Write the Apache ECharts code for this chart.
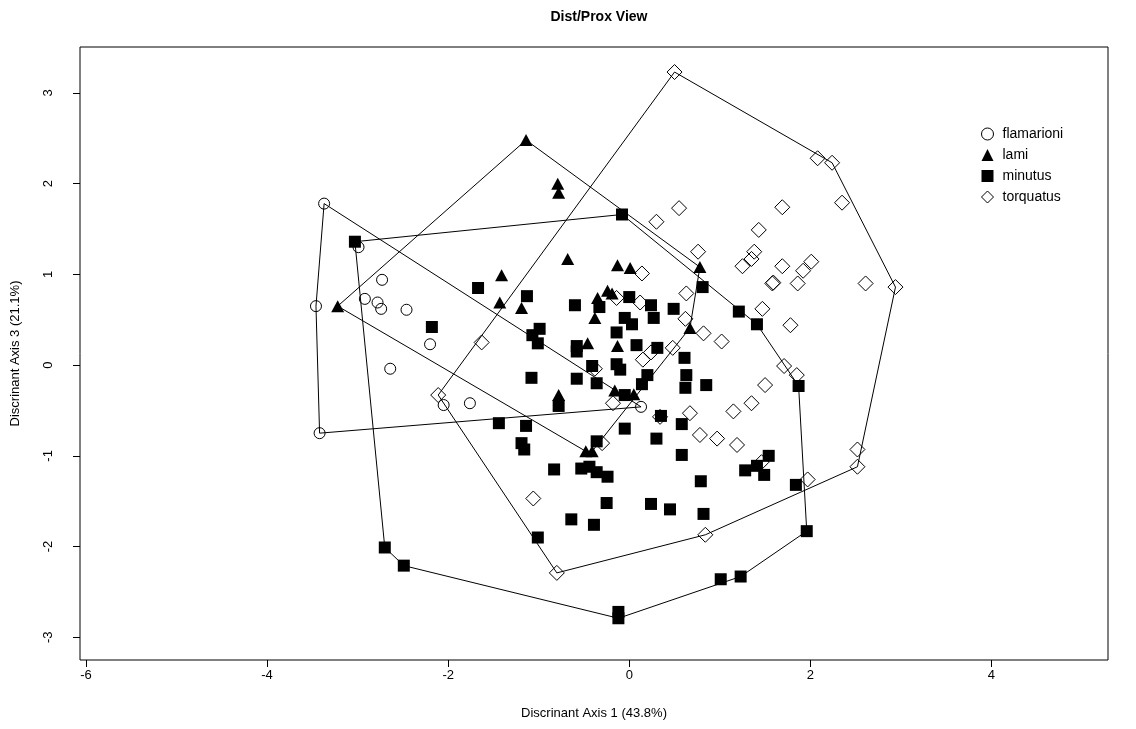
<!DOCTYPE html>
<html><head><meta charset="utf-8">
<script src="https://cdn.jsdelivr.net/npm/echarts@6/dist/echarts.min.js"></script>
<style>html,body{margin:0;padding:0;background:#fff}#c{width:1136px;height:729px}</style>
</head><body><div id="c"></div>
<script>
const flamarioni = [[-3.37,1.78],[-2.99,1.30],[-2.73,0.94],[-2.92,0.73],[-2.78,0.69],[-2.74,0.62],[-2.46,0.61],[-3.46,0.65],[-2.20,0.23],[-2.64,-0.04],[-2.05,-0.44],[-1.76,-0.42],[-3.42,-0.75],[0.13,-0.46]];
const lami = [[-3.22,0.65],[-1.14,2.48],[-0.79,2.00],[-0.78,1.90],[-0.68,1.17],[-1.41,0.99],[-1.43,0.69],[-1.19,0.63],[-0.35,0.74],[-0.38,0.52],[-0.24,0.82],[-0.46,0.24],[-0.78,-0.33],[-0.13,1.10],[0.01,1.07],[0.78,1.08],[-0.19,0.79],[0.67,0.41],[-0.13,0.21],[-0.16,-0.28],[0.05,-0.32],[-0.48,-0.95],[-0.41,-0.95]];
const minutus = [[-3.03,1.36],[-0.08,1.66],[-2.18,0.42],[-1.67,0.85],[-1.13,0.76],[-0.60,0.66],[-0.33,0.64],[-0.99,0.40],[-1.07,0.33],[-1.01,0.24],[-0.58,0.21],[-0.58,0.15],[-0.41,-0.01],[-1.08,-0.14],[-0.58,-0.15],[-0.36,-0.20],[-0.78,-0.45],[-1.44,-0.64],[-1.14,-0.67],[0.81,0.86],[0.00,0.75],[0.24,0.66],[0.49,0.62],[0.27,0.52],[-0.05,0.52],[0.03,0.45],[1.21,0.59],[1.41,0.45],[-0.14,0.36],[0.08,0.22],[0.31,0.19],[0.61,0.08],[-0.14,0.01],[-0.10,-0.05],[0.20,-0.11],[0.63,-0.11],[0.62,-0.25],[0.85,-0.22],[0.14,-0.21],[-0.05,-0.33],[0.35,-0.56],[0.58,-0.65],[-0.05,-0.70],[1.87,-0.23],[-2.70,-2.01],[-2.49,-2.21],[-1.19,-0.86],[-1.16,-0.93],[-0.36,-0.84],[-0.83,-1.15],[-0.53,-1.14],[-0.44,-1.12],[-0.36,-1.18],[-0.24,-1.23],[-0.25,-1.52],[-0.64,-1.70],[-0.39,-1.76],[-1.01,-1.90],[0.30,-0.81],[0.58,-0.99],[1.28,-1.16],[1.41,-1.11],[1.49,-1.21],[1.54,-1.00],[0.79,-1.28],[0.24,-1.53],[0.45,-1.59],[0.82,-1.64],[1.01,-2.36],[1.23,-2.33],[-0.12,-2.72],[-0.12,-2.79],[1.84,-1.32],[1.96,-1.83]];
const torquatus = [[0.50,3.23],[0.30,1.58],[0.55,1.73],[1.43,1.49],[0.76,1.25],[1.38,1.25],[1.35,1.17],[1.25,1.09],[2.08,2.28],[2.24,2.23],[2.35,1.79],[1.69,1.74],[-2.11,-0.33],[-0.14,0.74],[-1.63,0.25],[-0.38,-0.04],[0.14,1.01],[1.58,0.90],[1.59,0.91],[0.12,0.69],[0.63,0.79],[0.62,0.51],[1.47,0.62],[0.82,0.35],[1.02,0.26],[0.24,0.14],[0.15,0.06],[0.48,0.19],[-0.18,-0.42],[0.34,-0.57],[0.67,-0.53],[1.15,-0.51],[1.35,-0.42],[1.50,-0.22],[1.69,1.09],[2.01,1.14],[1.92,1.04],[1.86,0.90],[2.61,0.90],[2.94,0.86],[1.78,0.44],[1.71,-0.01],[1.85,-0.11],[-0.30,-0.86],[-1.06,-1.47],[-0.80,-2.29],[0.78,-0.77],[0.97,-0.81],[1.19,-0.88],[1.46,-1.07],[0.84,-1.87],[2.52,-0.93],[2.52,-1.12],[1.97,-1.26]];
const groupNames = ['flamarioni','lami','minutus','torquatus'];
const xTicks = [-6,-4,-2,0,2,4];
const yTicks = [-3,-2,-1,0,1,2,3];

function hull(p){
  const pts = p.slice().sort((a,b)=>a[0]-b[0]||a[1]-b[1]);
  const cross=(o,a,b)=>(a[0]-o[0])*(b[1]-o[1])-(a[1]-o[1])*(b[0]-o[0]);
  const lower=[]; for(const q of pts){while(lower.length>=2&&cross(lower[lower.length-2],lower[lower.length-1],q)<=0)lower.pop();lower.push(q);}
  const upper=[]; for(let i=pts.length-1;i>=0;i--){const q=pts[i];while(upper.length>=2&&cross(upper[upper.length-2],upper[upper.length-1],q)<=0)upper.pop();upper.push(q);}
  upper.pop(); lower.pop();
  const h=lower.concat(upper); h.push(h[0]); return h;
}
const FONT = '"Liberation Sans", Arial, sans-serif';
const groups = [
  {name:'flamarioni', data:flamarioni, symbol:'circle', size:11, fill:'rgba(0,0,0,0)'},
  {name:'lami', data:lami, symbol:'triangle', size:[13,12], fill:'#000'},
  {name:'minutus', data:minutus, symbol:'rect', size:12, fill:'#000'},
  {name:'torquatus', data:torquatus, symbol:'diamond', size:15, fill:'rgba(0,0,0,0)'}
];
const series = [];
groups.forEach(g=>{
  series.push({type:'line', data:hull(g.data), showSymbol:false, symbol:'none', silent:true,
    lineStyle:{color:'#000', width:1}, z:1, legendHoverLink:false, tooltip:{show:false}});
});
groups.forEach(g=>{
  series.push({type:'scatter', name:g.name, data:g.data, symbol:g.symbol, symbolSize:g.size, z:3,
    itemStyle:{color:g.fill, borderColor:'#000', borderWidth: g.fill==='#000'?0:1, opacity:1}});
});
const chart = echarts.init(document.getElementById('c'), null, {renderer:'canvas'});
chart.setOption({
  animation:false,
  backgroundColor:'#fff',
  title:{text:'Dist/Prox View', left:594, top:5, textAlign:'center',
    textStyle:{fontFamily:FONT, fontSize:14, fontWeight:'bold', color:'#000'}},
  legend:{orient:'vertical', left:976, top:122, itemGap:7, itemWidth:12, itemHeight:12,
    textStyle:{fontFamily:FONT, fontSize:14, color:'#000', padding:[0,0,0,4]},
    data:[
      {name:'flamarioni', icon:'circle', itemStyle:{color:'rgba(0,0,0,0)', borderColor:'#000', borderWidth:1}},
      {name:'lami', icon:'triangle', itemStyle:{color:'#000', borderWidth:0}},
      {name:'minutus', icon:'rect', itemStyle:{color:'#000', borderWidth:0}},
      {name:'torquatus', icon:'diamond', itemStyle:{color:'rgba(0,0,0,0)', borderColor:'#000', borderWidth:1}}
    ]},
  grid:{left:80, right:28, top:47, bottom:69, show:true, borderColor:'#000', borderWidth:1, backgroundColor:'rgba(0,0,0,0)', containLabel:false},
  xAxis:{type:'value', min:-6.066, max:5.287, splitLine:{show:false},
    axisLine:{show:false, onZero:false},
    axisTick:{show:true, inside:false, length:7, customValues:xTicks, lineStyle:{color:'#000'}},
    axisLabel:{customValues:xTicks, margin:9, fontFamily:FONT, fontSize:13, color:'#000'},
    name:'Discrinant Axis 1 (43.8%)', nameLocation:'middle', nameGap:47,
    nameTextStyle:{fontFamily:FONT, fontSize:13, color:'#000'}},
  yAxis:{type:'value', min:-3.25, max:3.506, splitLine:{show:false},
    axisLine:{show:false, onZero:false},
    axisTick:{show:true, inside:false, length:7, customValues:yTicks, lineStyle:{color:'#000'}},
    axisLabel:{customValues:yTicks, rotate:90, margin:25, fontFamily:FONT, fontSize:13, color:'#000'},
    name:'Discrinant Axis 3 (21.1%)', nameLocation:'middle', nameGap:58, nameRotate:90,
    nameTextStyle:{fontFamily:FONT, fontSize:13, color:'#000'}},
  series:series
});
</script></body></html>
